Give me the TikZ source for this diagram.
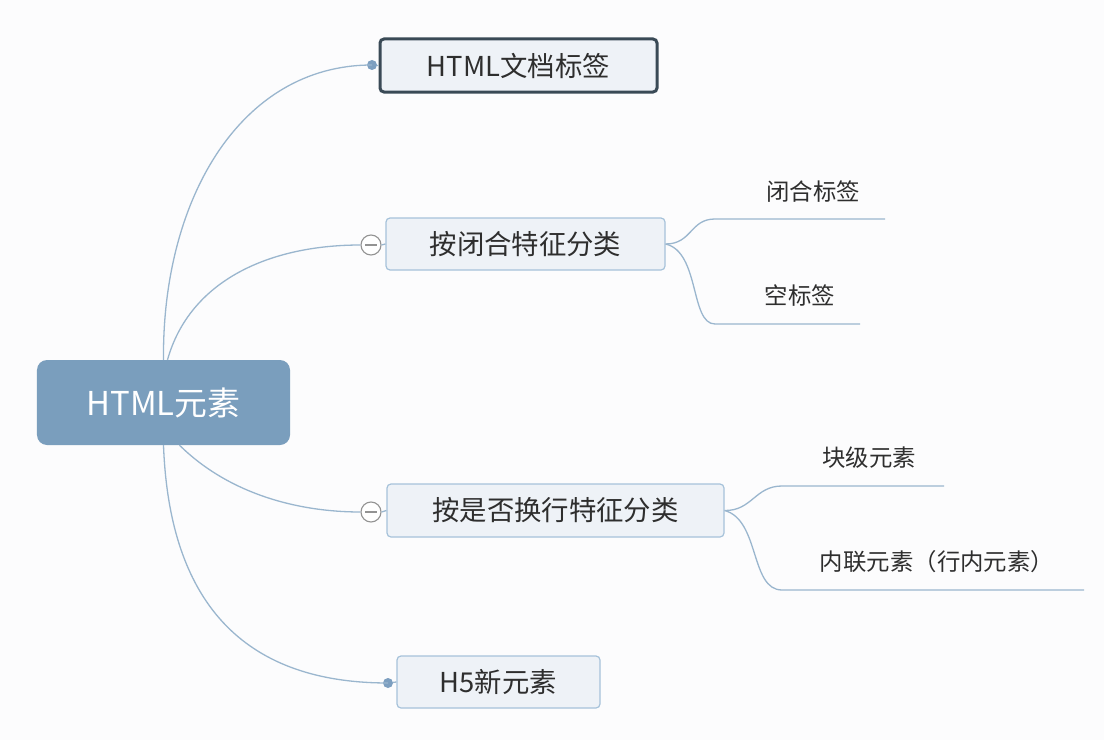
\documentclass[tikz,border=0pt]{standalone}
\usepackage{fontspec}
\setmainfont{Noto Sans CJK SC}
\definecolor{bgc}{HTML}{FCFCFD}
\definecolor{rootc}{HTML}{7A9EBD}
\definecolor{linec}{HTML}{9AB6CE}
\definecolor{boxfill}{HTML}{EEF2F7}
\definecolor{boxline}{HTML}{A6C2DA}
\definecolor{darkline}{HTML}{3A4A56}
\definecolor{txt}{HTML}{2E2E2E}
\definecolor{dotc}{HTML}{7D9FC0}
\tikzset{
  rootbox/.style={fill=rootc, rounded corners=10bp, text=white, font=\fontsize{33}{33}\selectfont, minimum width=253bp, minimum height=85bp, inner sep=0pt},
  topicbox/.style={fill=boxfill, draw=boxline, line width=1.2bp, rounded corners=4bp, text=txt, font=\fontsize{27.5}{27.5}\selectfont, minimum height=52bp, inner sep=0pt},
  strongbox/.style={topicbox, draw=darkline, line width=3bp},
  leaf/.style={text=txt, font=\fontsize{23.5}{23.5}\selectfont, inner sep=0pt},
  conn/.style={draw=linec, line width=1.3bp},
  dotnode/.style={circle, fill=dotc, minimum size=10bp, inner sep=0pt},
  collapse/.style={circle, draw=gray!85, fill=white, line width=1.1bp, minimum size=20bp, inner sep=0pt}
}
\begin{document}
\begin{tikzpicture}[x=1bp,y=-1bp]
\fill[bgc] (0,0) rectangle (1104,740);
\useasboundingbox (0,0) rectangle (1104,740);

% root
\node[rootbox] (root) at (163.5,402.5) {HTML元素};

% main topics
\node[strongbox, minimum width=277bp, minimum height=53bp] (b1) at (518.5,65.5) {HTML文档标签};
\node[topicbox, minimum width=279bp] (b2) at (525.5,244) {按闭合特征分类};
\node[topicbox, minimum width=337bp, minimum height=53bp] (b3) at (555.5,510.5) {按是否换行特征分类};
\node[topicbox, minimum width=203bp] (b4) at (498.5,682) {H5新元素};

% markers
\node[dotnode] (d1) at (372,65) {};
\node[collapse] (k2) at (371,245) {};
\node[collapse] (k3) at (371,512) {};
\node[dotnode] (d4) at (388,683) {};
\draw[gray!85, line width=1.1bp] ([xshift=-6bp]k2.center) -- ([xshift=6bp]k2.center);
\draw[gray!85, line width=1.1bp] ([xshift=-6bp]k3.center) -- ([xshift=6bp]k3.center);
\draw[conn] (d1) -- (b1.west);
\draw[conn] (k2.east) -- (b2.west);
\draw[conn] (k3.east) -- (b3.west);
\draw[conn] (d4) -- (b4.west);

% root connectors
\draw[conn] ([xshift=0bp]root.north) .. controls (162,200) and (240,65) .. (d1.center);
\draw[conn] ([xshift=4bp]root.north) .. controls (190,280) and (270,245) .. (k2.west);
\draw[conn] ([xshift=16bp]root.south) .. controls (230,495) and (300,512) .. (k3.west);
\draw[conn] ([xshift=0bp]root.south) .. controls (170,620) and (260,683) .. (d4.center);

% leaves of b2
\coordinate (l1a) at (715,219); \coordinate (l1b) at (885,219);
\coordinate (l2a) at (715,324); \coordinate (l2b) at (860,324);
\node[leaf] (t1) at (813,192) {闭合标签};
\node[leaf] (t2) at (800,296) {空标签};
\draw[conn] (b2.east) .. controls (692,244) and (690,219) .. (l1a) -- (l1b);
\draw[conn] (b2.east) .. controls (700,252) and (690,324) .. (l2a) -- (l2b);

% leaves of b3
\coordinate (l3a) at (782,486); \coordinate (l3b) at (944,486);
\coordinate (l4a) at (782,590); \coordinate (l4b) at (1084,590);
\node[leaf] (t3) at (869,458) {块级元素};
\node[leaf] (t4) at (937,562) {内联元素（行内元素）};
\draw[conn] (b3.east) .. controls (752,511) and (755,486) .. (l3a) -- (l3b);
\draw[conn] (b3.east) .. controls (760,520) and (750,590) .. (l4a) -- (l4b);
\end{tikzpicture}
\end{document}
